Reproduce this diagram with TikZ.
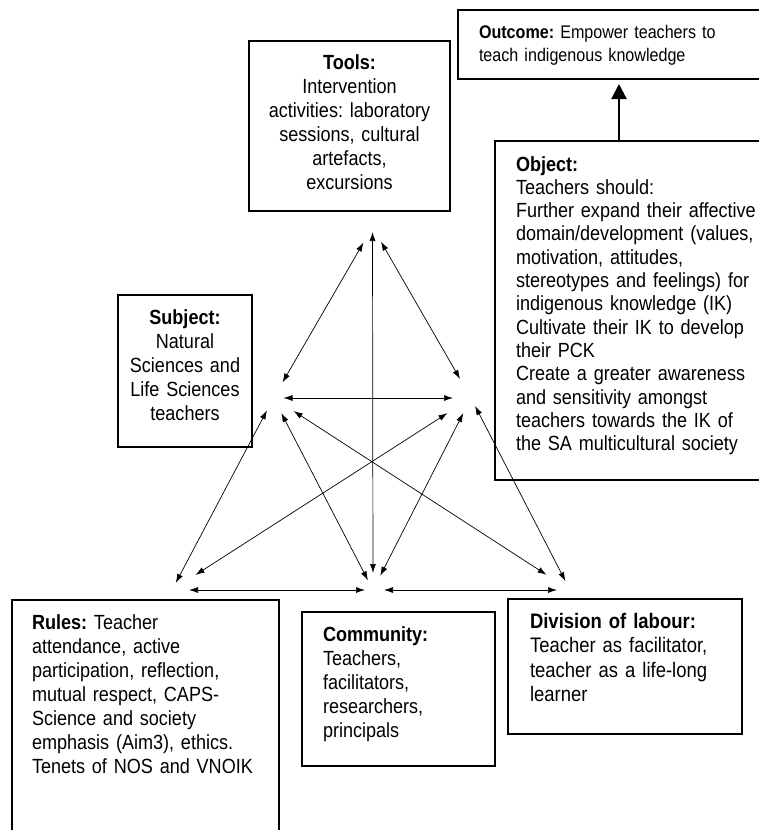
\documentclass[tikz,border=0pt]{standalone}
\usepackage{fontspec}
\setmainfont{Liberation Sans}[FakeStretch=0.88]
\frenchspacing
\usetikzlibrary{arrows.meta}

\tikzset{
  box/.style={draw, line width=1.4pt, anchor=north west, inner ysep=0pt, outer sep=0pt,
    align=left, font=\fontsize{20.5}{24}\selectfont},
  link/.style={{Latex[length=9pt,width=6pt]}-{Latex[length=9pt,width=6pt]}, line width=0.7pt},
  outarrow/.style={-{Triangle[length=15pt,width=15pt]}, line width=2.2pt, shorten >=5pt},
}

\begin{document}
\begin{tikzpicture}[x=1pt,y=-1pt]
\useasboundingbox (0,0) rectangle (759,830);
% the boxes
\node[box, font=\fontsize{18.3}{23}\selectfont, inner xsep=21pt, text width=320pt, text height=28pt, text depth=41pt] (outcome) at (458,10)
  {\textbf{Outcome:} Empower teachers to\\teach indigenous knowledge};
\node[box, align=center, inner xsep=12pt, text width=177pt, text height=28pt, text depth=142pt] (tools) at (249,41)
  {\textbf{Tools:}\\Intervention\\activities: laboratory\\sessions, cultural\\artefacts,\\excursions};
\node[box, align=center, inner xsep=8pt, text width=118pt, text height=29pt, text depth=123pt] (subject) at (118,295)
  {\textbf{Subject:}\\Natural\\Sciences and\\Life Sciences\\teachers};
\node[box, font=\fontsize{20.5}{23.3}\selectfont, inner xsep=21pt, text width=320pt, text height=30pt, text depth=309pt] (object) at (495,141)
  {\textbf{Object:}\\Teachers should:\\Further expand their affective\\domain/development (values,\\motivation, attitudes,\\stereotypes and feelings) for\\indigenous knowledge (IK)\\Cultivate their IK to develop\\their PCK\\Create a greater awareness\\and sensitivity amongst\\teachers towards the IK of\\the SA multicultural society};
\node[box, inner xsep=20pt, text width=227pt, text height=29pt, text depth=231pt] (rules) at (12,600)
  {\textbf{Rules:} Teacher\\attendance, active\\participation, reflection,\\mutual respect, CAPS-\\Science and society\\emphasis (Aim3), ethics.\\Tenets of NOS and VNOIK};
\node[box, inner xsep=21pt, text width=151pt, text height=29pt, text depth=125pt] (community) at (302,612)
  {\textbf{Community:}\\Teachers,\\facilitators,\\researchers,\\principals};
\node[box, font=\fontsize{21}{24.5}\selectfont, inner xsep=22pt, text width=190pt, text height=29pt, text depth=106pt] (division) at (508,599)
  {\textbf{Division of labour:}\\Teacher as facilitator,\\teacher as a life-long\\learner};

% object to outcome
\coordinate (up-x) at (619,0);
\draw[outarrow] (object.north -| up-x) -- (outcome.south -| up-x);

% corners of the activity triangle
\coordinate (tools-v) at (372.5,227);
\coordinate (subj-v) at (273.5,398);
\coordinate (obj-v) at (471,398);
\coordinate (rules-v) at (172,590);
\coordinate (comm-v) at (373,590);
\coordinate (div-v) at (570,590);

% links between the corners
\draw[link, shorten <=18pt, shorten >=18pt] (tools-v) -- (subj-v);
\draw[link, shorten <=17pt, shorten >=22pt] (tools-v) -- (obj-v);
\draw[link, shorten <=5pt, shorten >=17pt] (tools-v) -- (comm-v);
\draw[link, shorten <=10pt, shorten >=18pt] (subj-v) -- (obj-v);
\draw[link, shorten <=14pt, shorten >=8pt] (subj-v) -- (rules-v);
\draw[link, shorten <=17pt, shorten >=11pt] (subj-v) -- (comm-v);
\draw[link, shorten <=24pt, shorten >=28pt] (subj-v) -- (div-v);
\draw[link, shorten <=28pt, shorten >=28pt] (obj-v) -- (rules-v);
\draw[link, shorten <=17pt, shorten >=16pt] (obj-v) -- (comm-v);
\draw[link, shorten <=9pt, shorten >=10pt] (obj-v) -- (div-v);
\draw[link, shorten <=17pt, shorten >=8pt] (rules-v) -- (comm-v);
\draw[link, shorten <=11pt, shorten >=13pt] (comm-v) -- (div-v);
\end{tikzpicture}
\end{document}
